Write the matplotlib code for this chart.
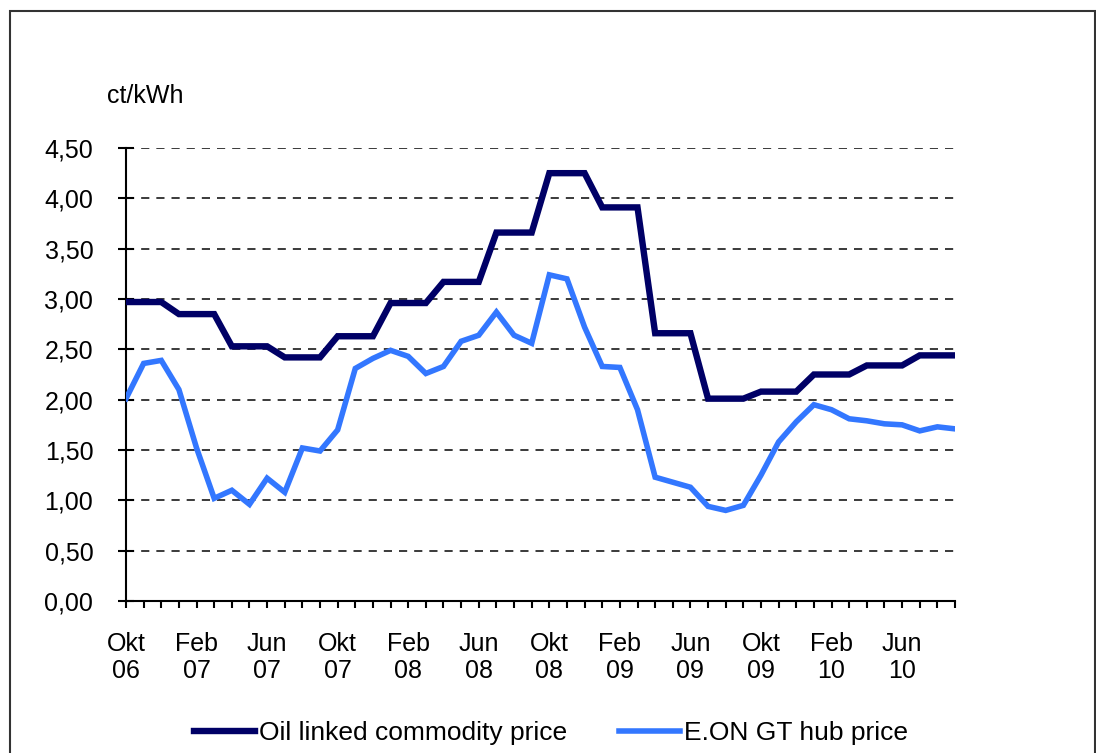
import numpy as np
import matplotlib.pyplot as plt
from matplotlib.patches import Rectangle

plt.rcParams['font.family'] = ['Liberation Sans', 'DejaVu Sans']

# monthly values, Okt 06 .. Sep 10
oil = [2.97, 2.97, 2.97, 2.85, 2.85, 2.85, 2.53, 2.53, 2.53, 2.42, 2.42, 2.42,
       2.63, 2.63, 2.63, 2.96, 2.96, 2.96, 3.17, 3.17, 3.17, 3.66, 3.66, 3.66,
       4.25, 4.25, 4.25, 3.91, 3.91, 3.91, 2.66, 2.66, 2.66, 2.01, 2.01, 2.01,
       2.08, 2.08, 2.08, 2.25, 2.25, 2.25, 2.34, 2.34, 2.34, 2.44, 2.44, 2.44]
hub = [2.01, 2.36, 2.39, 2.10, 1.52, 1.02, 1.10, 0.96, 1.22, 1.08, 1.52, 1.49,
       1.70, 2.31, 2.41, 2.49, 2.43, 2.26, 2.33, 2.58, 2.64, 2.87, 2.64, 2.56,
       3.24, 3.20, 2.72, 2.33, 2.32, 1.90, 1.23, 1.18, 1.13, 0.94, 0.90, 0.95,
       1.25, 1.58, 1.78, 1.95, 1.90, 1.81, 1.79, 1.76, 1.75, 1.69, 1.73, 1.71]
tick_labels = ['Okt\n06', 'Feb\n07', 'Jun\n07', 'Okt\n07', 'Feb\n08', 'Jun\n08',
               'Okt\n08', 'Feb\n09', 'Jun\n09', 'Okt\n09', 'Feb\n10', 'Jun\n10']
yticks = [0, 0.5, 1, 1.5, 2, 2.5, 3, 3.5, 4, 4.5]

x = np.arange(len(oil))

fig = plt.figure(figsize=(10.96, 7.53), dpi=100)
ax = fig.add_axes([126/1096, 1-601/753, (955-126)/1096, (601-148)/753])

ax.plot(x, hub, color='#3377ff', linewidth=4.0, solid_joinstyle='miter', label='E.ON GT hub price', zorder=3)
ax.plot(x, oil, color='#000066', linewidth=4.6, solid_joinstyle='miter', label='Oil linked commodity price', zorder=4)

ax.set_xlim(0, len(oil) - 1)
ax.set_ylim(0, 4.5)
ax.set_yticks(yticks)
ax.set_yticklabels([f'{v:.2f}'.replace('.', ',') for v in yticks])
ax.set_xticks(x, minor=True)
ax.set_xticks(x[::4])
ax.set_xticklabels(tick_labels, linespacing=1.2)

for v in yticks[1:]:
    ax.axhline(v, color='#3a3a3a', linewidth=1.4, linestyle=(0, (4.2, 3.6)), zorder=1)

for s in ['top', 'right']:
    ax.spines[s].set_visible(False)
for s in ['left', 'bottom']:
    ax.spines[s].set_linewidth(1.5)

ax.tick_params(axis='y', direction='inout', length=11, width=1.5, labelsize=18, pad=18)
ax.tick_params(axis='x', which='both', direction='out', length=5, width=1.5, labelsize=18, pad=17)

fig.text(107/1096, 1-103/753, 'ct/kWh', fontsize=18, va='baseline', ha='left')

handles, labels = ax.get_legend_handles_labels()
fig.legend(handles[::-1], labels[::-1], loc='center', bbox_to_anchor=(551/1096, 1-733/753),
           ncol=2, frameon=False, fontsize=19, handlelength=2.3, handletextpad=0.15,
           columnspacing=2.0)

fig.patches.append(Rectangle((10/1096, -0.05), 1085/1096, 1 - 11/753 + 0.05,
                             transform=fig.transFigure, fill=False,
                             edgecolor='#333333', linewidth=1.5))

fig.savefig('out.png', dpi=100)
